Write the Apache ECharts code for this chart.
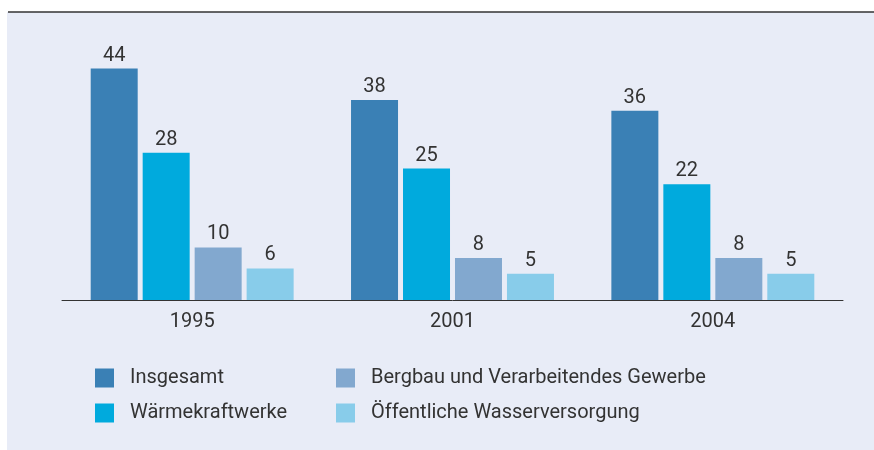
<!DOCTYPE html>
<html>
<head>
<meta charset="utf-8">
<script src="https://cdn.jsdelivr.net/npm/echarts@6/dist/echarts.min.js"></script>
<style>
  html, body { margin: 0; padding: 0; background: #fff; }
  #chart { width: 874px; height: 450px; }
</style>
</head>
<body>
<div id="chart"></div>
<script>
  const YEARS = ['1995', '2001', '2004'];
  const INSGESAMT = [44, 38, 36];
  const WAERME = [28, 25, 22];
  const BERGBAU = [10, 8, 8];
  const WASSER = [6, 5, 5];

  const NAMES = ['Insgesamt', 'Wärmekraftwerke', 'Bergbau und Verarbeitendes Gewerbe', 'Öffentliche Wasserversorgung'];
  const COLORS = ['#3a80b5', '#00aadd', '#82a8cf', '#88ccea'];
  const FONT = 'Roboto';

  let chart = echarts.init(document.getElementById('chart'));

  // common bar settings
  function bar(name, data, color) {
    return {
      name: name,
      type: 'bar',
      data: data,
      barWidth: 47,
      barGap: '10.6%',
      itemStyle: { color: color },
      label: {
        show: true,
        position: 'top',
        distance: 3,
        color: '#333',
        fontFamily: FONT,
        fontSize: 20
      }
    };
  }

  let legendText = {
    color: '#333',
    fontFamily: FONT,
    fontSize: 20,
    lineHeight: 20,
    padding: [0, 0, 0, 11]
  };

  let legendBase = {
    orient: 'vertical',
    top: 363,
    itemWidth: 19,
    itemHeight: 19,
    itemGap: 15,
    icon: 'rect',
    textStyle: legendText
  };

  let option = {
    backgroundColor: '#fff',
    animation: false,
    graphic: [
      {
        type: 'rect',
        shape: { x: 7, y: 12, width: 867, height: 438 },
        style: { fill: '#e8ecf7' },
        z: -10
      },
      {
        type: 'line',
        shape: { x1: 8, y1: 12, x2: 874, y2: 12 },
        style: { stroke: '#333', lineWidth: 1.5 },
        z: -9
      }
    ],
    legend: [
      Object.assign({ data: [NAMES[0], NAMES[1]], left: 90 }, legendBase),
      Object.assign({ data: [NAMES[2], NAMES[3]], left: 331 }, legendBase)
    ],
    grid: {
      left: 62,
      right: 31,
      top: 37,
      bottom: 150
    },
    xAxis: {
      type: 'category',
      data: YEARS,
      axisLine: { lineStyle: { color: '#333', width: 1 } },
      axisTick: { show: false },
      axisLabel: {
        color: '#333',
        fontFamily: FONT,
        fontSize: 20,
        margin: 12
      }
    },
    yAxis: {
      type: 'value',
      min: 0,
      max: 50,
      show: false
    },
    series: [
      bar(NAMES[0], INSGESAMT, COLORS[0]),
      bar(NAMES[1], WAERME, COLORS[1]),
      bar(NAMES[2], BERGBAU, COLORS[2]),
      bar(NAMES[3], WASSER, COLORS[3])
    ]
  };

  chart.setOption(option);
</script>
</body>
</html>
